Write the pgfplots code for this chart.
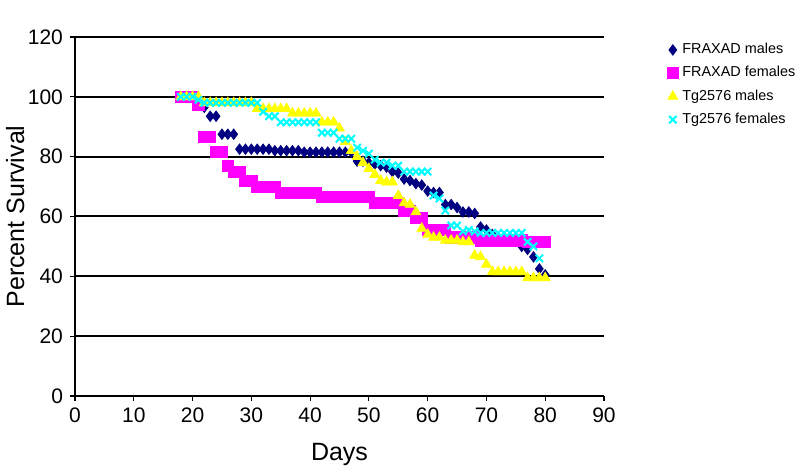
\documentclass[border=0pt]{standalone}
\usepackage{pgfplots}
\pgfplotsset{compat=1.18}
\usepackage{fontspec}
\setmainfont{Liberation Sans}
\definecolor{navy}{RGB}{0,0,128}
\definecolor{pmagenta}{RGB}{255,0,255}
\definecolor{pyellow}{RGB}{255,255,0}
\definecolor{pcyan}{RGB}{0,255,255}

\begin{document}
\begin{tikzpicture}
% fixes the page at the reference's 800x476 proportions (1px = 0.5pt)
\useasboundingbox (-37.5pt,-40pt) rectangle (362.5pt,198pt);
\begin{axis}[
    scale only axis,
    width=264.5pt,
    height=179.5pt,
    xmin=0, xmax=90,
    ymin=0, ymax=120,
    xtick={0,10,...,90},
    ytick={0,20,...,120},
    axis lines=left,
    axis line style={-, line width=0.6pt},
    tick align=outside,
    major tick length=2.5pt,
    tick style={black, line width=0.6pt},
    ymajorgrids=true,
    grid style={black, line width=1pt},
    ticklabel style={font=\fontsize{10.5}{12}\selectfont},
    /pgf/number format/assume math mode=true,
    xlabel={Days},
    ylabel={Percent Survival},
    label style={font=\fontsize{12.5}{14}\selectfont},
    xlabel style={at={(axis description cs:0.5,-0.164)}, anchor=center},
    ylabel style={at={(axis description cs:-0.113,0.5)}, anchor=center},
    legend style={
        at={(1.115,1.006)},
        anchor=north west,
        draw=none,
        fill=none,
        font=\fontsize{7.2}{8}\selectfont,
        row sep=0.9pt,
        inner xsep=1pt,
    },
    legend cell align=left,
]

% FRAXAD males
\addplot[only marks, mark=diamond*, mark size=2.6pt, color=navy] coordinates {
    (18,100) (19,100) (20,100) (21,98) (22,96.5) (23,93.5) (24,93.5)
    (25,87.5) (26,87.5) (27,87.5) (28,82.5) (29,82.5) (30,82.5) (31,82.5)
    (32,82.5) (33,82.5) (34,82) (35,82) (36,82) (37,82) (38,82)
    (39,81.5) (40,81.5) (41,81.5) (42,81.5) (43,81.5) (44,81.5) (45,81.5)
    (46,81.5) (47,81.5) (48,78.5) (49,78.5) (50,78) (51,77.5) (52,77)
    (53,76.5) (54,75) (55,74.5) (56,72.5) (57,72) (58,71) (59,70.5)
    (60,68.5) (61,68) (62,68) (63,64) (64,64) (65,63) (66,61.5)
    (67,61.5) (68,61) (69,56.5) (70,55.5) (71,54) (72,53) (73,53)
    (74,52.5) (75,52) (76,50) (77,49) (78,46.5) (79,42.5) (80,40.5)
};
\addlegendentry{FRAXAD males}

% FRAXAD females
\addplot[only marks, mark=square*, mark size=2.8pt, color=pmagenta] coordinates {
    (18,100) (19,100) (20,100) (21,97.5) (22,86.5) (23,86.5) (24,81.5)
    (25,81.5) (26,77) (27,75) (28,75) (29,72) (30,72) (31,70)
    (32,70) (33,70) (34,70) (35,68) (36,68) (37,68) (38,68)
    (39,68) (40,68) (41,68) (42,66.5) (43,66.5) (44,66.5) (45,66.5)
    (46,66.5) (47,66.5) (48,66.5) (49,66.5) (50,66.5) (51,64.5) (52,64.5)
    (53,64.5) (54,64.5) (55,64.5) (56,62) (57,62) (58,59.5) (59,59.5)
    (60,55.5) (61,55.5) (62,55.5) (63,55.5) (64,53) (65,53) (66,53)
    (67,53) (68,53) (69,52) (70,52) (71,52) (72,52) (73,52)
    (74,52) (75,52) (76,52) (77,51.5) (78,51.5) (79,51.5) (80,51.5)
};
\addlegendentry{FRAXAD females}

% Tg2576 males
\addplot[only marks, mark=triangle*, mark size=2.8pt, color=pyellow] coordinates {
    (18,100) (19,100) (20,100) (21,100) (22,98) (23,98) (24,98)
    (25,98) (26,98) (27,98) (28,98) (29,98) (30,98) (31,96)
    (32,96) (33,96) (34,96) (35,96) (36,96) (37,94.5) (38,94.5)
    (39,94.5) (40,94.5) (41,94.5) (42,91.5) (43,91.5) (44,91.5) (45,89.5)
    (46,85) (47,82) (48,80) (49,78) (50,76) (51,74) (52,72)
    (53,71.5) (54,71.5) (55,67) (56,64.5) (57,64) (58,61.5) (59,56)
    (60,54) (61,53) (62,53) (63,52) (64,52) (65,52) (66,51.5)
    (67,51.5) (68,47) (69,46.5) (70,44) (71,41.5) (72,41.5) (73,41.5)
    (74,41.5) (75,41.5) (76,41.5) (77,39.5) (78,39.5) (79,39.5) (80,39.5)
};
\addlegendentry{Tg2576 males}

% Tg2576 females
\addplot[only marks, mark=x, mark size=2.6pt, color=pcyan, mark options={line width=1pt}] coordinates {
    (18,100) (19,100) (20,100) (21,99) (22,98) (23,98) (24,98)
    (25,98) (26,98) (27,98) (28,98) (29,98) (30,98) (31,98)
    (32,95) (33,93.5) (34,93.5) (35,91.5) (36,91.5) (37,91.5) (38,91.5)
    (39,91.5) (40,91.5) (41,91.5) (42,88) (43,88) (44,88) (45,86)
    (46,86) (47,86) (48,83) (49,82) (50,81) (51,79) (52,78)
    (53,78) (54,77) (55,77) (56,75) (57,75) (58,75) (59,75)
    (60,75) (61,67) (62,66) (63,62) (64,57) (65,57) (66,55)
    (67,55.5) (68,55) (69,54.5) (70,54.5) (71,54.5) (72,54.5) (73,54.5)
    (74,54.5) (75,54.5) (76,54.5) (77,51.5) (78,50) (79,46)
};
\addlegendentry{Tg2576 females}

\end{axis}
\end{tikzpicture}
\end{document}
